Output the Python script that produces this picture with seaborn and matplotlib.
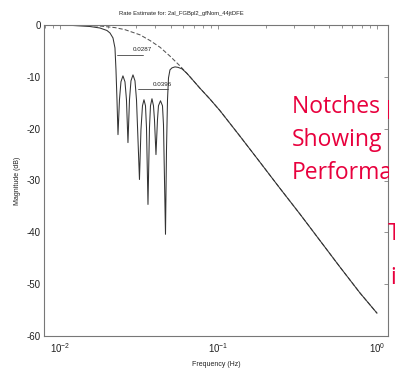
import numpy as np
import pandas as pd
import matplotlib
matplotlib.use("Agg")
import matplotlib.pyplot as plt
import seaborn as sns
from matplotlib.ticker import LogLocator, NullFormatter
from matplotlib.transforms import Bbox

# ---- data ----
freq_notch = [0.00793, 0.01157, 0.01546, 0.01788, 0.01979, 0.02068, 0.02160, 0.02223,
              0.02256, 0.02289, 0.02323, 0.02373, 0.02425, 0.02496, 0.02571, 0.02627,
              0.02685, 0.02745, 0.02805, 0.02888, 0.02973, 0.03039, 0.03106, 0.03173,
              0.03243, 0.03315, 0.03388, 0.03463, 0.03514, 0.03591, 0.03670, 0.03724,
              0.03805, 0.03889, 0.03946, 0.04033, 0.04122, 0.04182, 0.04306, 0.04433,
              0.04498, 0.04631, 0.04699, 0.04768, 0.04838, 0.04943, 0.05089, 0.05316,
              0.05553, 0.05884, 0.06326, 0.0764, 0.0884, 0.102, 0.137, 0.183, 0.244,
              0.327, 0.437, 0.584, 0.781, 1.0]
mag_notch = [0.0, -0.06, -0.29, -0.58, -1.06, -1.54, -2.5, -4.42,
             -8.65, -14.42, -21.15, -14.42, -10.96, -9.81, -10.96, -14.42,
             -22.69, -14.42, -10.77, -9.62, -10.77, -14.42, -22.12, -29.81,
             -20.19, -15.58, -14.42, -15.58, -19.81, -34.62, -19.81, -15.58,
             -14.23, -15.58, -18.27, -25.0, -18.27, -15.58, -14.62, -15.58,
             -19.23, -40.38, -24.04, -14.42, -10.19, -8.65, -8.27, -8.08,
             -8.17, -8.46, -9.33, -12.2, -14.3, -16.5, -21.5, -26.5, -31.5,
             -36.5, -41.6, -46.7, -51.7, -55.6]

freq_ref = [0.0079, 0.0134, 0.0179, 0.0222, 0.0257, 0.0320, 0.0370, 0.0428, 0.0494,
            0.0572, 0.0661, 0.0764, 0.0884, 0.102, 0.137, 0.183, 0.244, 0.327, 0.437,
            0.584, 0.781, 1.0]
mag_ref = [0.0, -0.06, -0.2, -0.5, -0.9, -1.9, -3.0, -4.3, -6.0, -7.9, -10.0, -12.2,
           -14.3, -16.5, -21.5, -26.5, -31.5, -36.5, -41.6, -46.7, -51.7, -55.6]

bw1_freq = [0.0229, 0.0334]
bw1_mag = [-5.87, -5.87]
bw1_label = "0.0287"
bw2_freq = [0.03106, 0.04803]
bw2_mag = [-12.3, -12.3]
bw2_label = "0.0396"

yticks = [0, -10, -20, -30, -40, -50, -60]
xticks = [0.01, 0.1, 1.0]
xtick_labels = [r"$10^{-2}$", r"$10^{-1}$", r"$10^{0}$"]

title = "Rate Estimate for: 2al_FGBpl2_gfNom_44jtDFE"
xlabel = "Frequency (Hz)"
ylabel = "Magnitude (dB)"
red_lines = ["Notches p", "Showing", "Performa"]

# ---- figure ----
sns.set_style("white")
plt.rcParams["font.family"] = ["Liberation Sans", "DejaVu Sans"]
plt.rcParams["axes.unicode_minus"] = False
plt.rcParams["mathtext.fontset"] = "custom"
plt.rcParams["mathtext.rm"] = "Liberation Sans"
plt.rcParams["mathtext.it"] = "Liberation Sans"

W, H = 395, 375
fig = plt.figure(figsize=(W / 100, H / 100), dpi=100)
ax = fig.add_axes([44 / W, 1 - 336 / H, (388 - 44) / W, (336 - 25) / H])

df_ref = pd.DataFrame({"f": freq_ref, "m": mag_ref})
df_notch = pd.DataFrame({"f": freq_notch, "m": mag_notch})
sns.lineplot(data=df_ref, x="f", y="m", ax=ax, color="#555555", linewidth=0.75,
             linestyle=(0, (4, 2)), estimator=None, sort=False)
sns.lineplot(data=df_notch, x="f", y="m", ax=ax, color="#333333", linewidth=0.75,
             estimator=None, sort=False)

ax.plot(bw1_freq, bw1_mag, color="#444444", linewidth=0.6)
ax.plot(bw2_freq, bw2_mag, color="#444444", linewidth=0.6)
ax.text(0.02888, -5.0, bw1_label, fontsize=4.5, color="#222222", va="baseline")
ax.text(0.03862, -11.7, bw2_label, fontsize=4.5, color="#222222", va="baseline")

ax.set_xscale("log")
ax.set_xlim(0.00793, 1.173)
ax.set_ylim(-60, 0)
ax.set_xticks(xticks)
ax.set_xticklabels(xtick_labels)
ax.xaxis.set_minor_locator(LogLocator(base=10, subs=np.arange(2, 10)))
ax.xaxis.set_minor_formatter(NullFormatter())
ax.set_yticks(yticks)
ax.set_yticklabels([str(v) for v in yticks])
ax.tick_params(axis="both", which="both", direction="in", top=True, right=True,
               color="#666666", width=0.5, labelsize=7, labelcolor="#222222", pad=2.5)
ax.tick_params(axis="x", which="major", pad=4)
ax.tick_params(axis="both", which="major", length=3)
ax.tick_params(axis="x", which="minor", length=1.8)
for s in ax.spines.values():
    s.set_color("#777777")
    s.set_linewidth(0.8)

ax.set_xlabel(xlabel, fontsize=5, color="#222222", labelpad=4)
ax.set_ylabel(ylabel, fontsize=5, color="#222222", labelpad=4)

fig.text(181 / W, 1 - 14 / H, title, fontsize=4.2, color="#222222", ha="center", va="center")

# red overlay text, clipped at the right edge like in the reference
red = "#E8003D"
clip = Bbox.from_extents(0, 0, 389, H)
for line, yb in zip(red_lines, [113, 146, 179]):
    t = fig.text(292 / W, 1 - yb / H, line, fontsize=16.5, color=red, family="Open Sans",
                 va="baseline", ha="left")
    t.set_clip_box(clip)
    t.set_clip_on(True)
fig.text(388 / W, 1 - 240 / H, "T", fontsize=16.5, color=red, family="Open Sans", va="baseline")
fig.text(390 / W, 1 - 284 / H, "i", fontsize=16.5, color=red, family="Open Sans", va="baseline")

fig.savefig("out.png", dpi=100)
